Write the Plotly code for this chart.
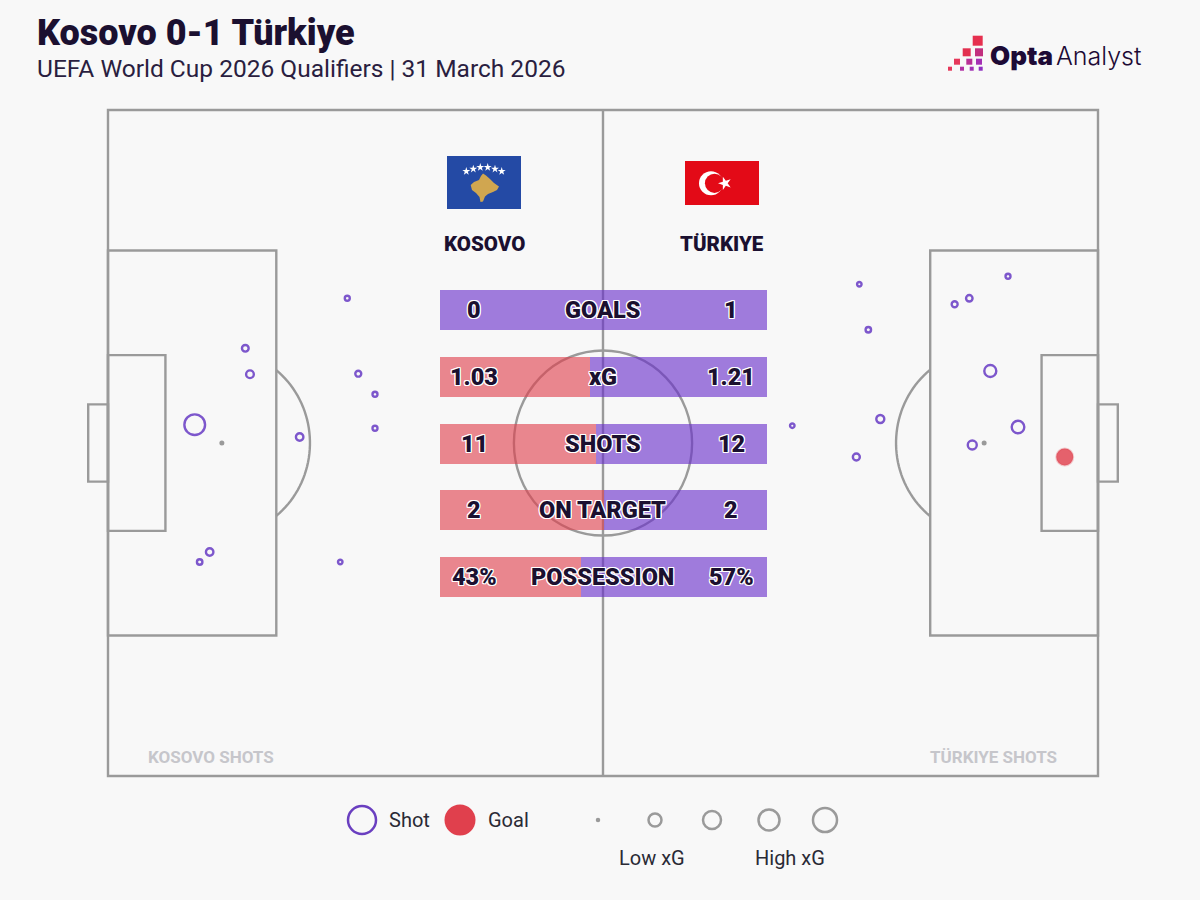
import numpy as np
import plotly.graph_objects as go

# ---------- data ----------
stat_names = ["GOALS", "xG", "SHOTS", "ON TARGET", "POSSESSION"]
kosovo_stats = [0, 1.03, 11, 2, 43]
turkiye_stats = [1, 1.21, 12, 2, 57]
kosovo_labels = ["0", "1.03", "11", "2", "43%"]
turkiye_labels = ["1", "1.21", "12", "2", "57%"]

kosovo_x = [24.17, 13.87, 14.34, 25.28, 26.97, 26.97, 8.76, 19.36, 10.27, 9.26, 23.46]
kosovo_y = [71.73, 64.22, 60.32, 60.41, 57.31, 52.21, 52.75, 50.90, 33.63, 32.13, 32.13]
kosovo_xg = [0.026, 0.047, 0.062, 0.037, 0.026, 0.026, 0.446, 0.058, 0.058, 0.031, 0.021]

turkiye_x = [75.89, 76.80, 90.91, 87.00, 85.52, 89.12, 91.92, 87.30, 78.01, 69.12, 75.59]
turkiye_y = [73.83, 67.01, 75.03, 71.73, 70.83, 60.81, 52.40, 49.70, 53.60, 52.60, 47.90]
turkiye_xg = [0.021, 0.031, 0.026, 0.044, 0.037, 0.150, 0.165, 0.084, 0.067, 0.021, 0.051]

goal_x = [96.64]
goal_y = [47.90]
goal_xg = [0.30]

key_xg = [0.176, 0.337, 0.459, 0.600]

# ---------- style ----------
BG = "#f8f8f8"
LINE = "#9a9a9a"
INK = "#1b1030"
PURPLE = "#7d57cc"
RED = "#e0404d"
BODY_FONT = "Roboto"
HEAVY_FONT = "Roboto"
LW = 2.4


def size_of(xg):
    return [31 * np.sqrt(v) for v in xg]


# figure pixel -> pitch (0-100) and paper coordinates
def pitch_x(px):
    return (px - 108) / 9.9


def pitch_y(py):
    return (776 - py) / 6.66


def pap_x(px):
    return px / 1200


def pap_y(py):
    return 1 - py / 900


fig = go.Figure()

# ---------- pitch ----------
shapes = []


def pitch_rect(x0, y0, x1, y1):
    shapes.append(dict(type="rect", xref="x", yref="y", x0=x0, y0=y0, x1=x1, y1=y1,
                       line=dict(color=LINE, width=LW), fillcolor="rgba(0,0,0,0)", layer="below"))


pitch_rect(0, 0, 100, 100)
shapes.append(dict(type="line", xref="x", yref="y", x0=50, x1=50, y0=0, y1=100,
                   line=dict(color=LINE, width=LW), layer="below"))
pitch_rect(0, 21.1, 17, 78.9)
pitch_rect(83.05, 21.1, 100, 78.9)
pitch_rect(0, 36.8, 5.8, 63.2)
pitch_rect(94.3, 36.8, 100, 63.2)
pitch_rect(-2, 44.2, 0, 55.8)
pitch_rect(100, 44.2, 102, 55.8)
shapes.append(dict(type="circle", xref="x", yref="y", x0=41, x1=59, y0=36.1, y1=63.9,
                   line=dict(color=LINE, width=LW), layer="below"))

RX, RY = 8.9, 13.9
limit = np.arccos(5.5 / RX)
theta = np.linspace(-limit, limit, 40)
for cx, sign in ((11.5, 1), (88.5, -1)):
    pts = [(cx + sign * RX * np.cos(t), 50 + RY * np.sin(t)) for t in theta]
    path = "M " + " L ".join(f"{a:.3f},{b:.3f}" for a, b in pts)
    shapes.append(dict(type="path", xref="x", yref="y", path=path,
                       line=dict(color=LINE, width=LW), layer="below"))

# ---------- flags ----------


def px_rect(x0, y0, x1, y1, color):
    shapes.append(dict(type="rect", xref="paper", yref="paper", x0=pap_x(x0), x1=pap_x(x1),
                       y0=pap_y(y0), y1=pap_y(y1), fillcolor=color, line=dict(width=0), layer="below"))


def px_circle(cx, cy, r, color):
    shapes.append(dict(type="circle", xref="paper", yref="paper", x0=pap_x(cx - r), x1=pap_x(cx + r),
                       y0=pap_y(cy + r), y1=pap_y(cy - r), fillcolor=color, line=dict(width=0), layer="below"))


px_rect(447, 156, 521, 209, "#244aa5")
map_pts = [(470.7, 185), (474, 182), (479, 180), (481, 176), (483, 173.5), (486, 175.5), (490, 179), (494, 183),
           (499, 186.5), (497, 190), (493, 192), (488, 194), (485, 196.5), (483, 201.5), (480.5, 202),
           (479.5, 197), (476, 193), (472, 190)]
shapes.append(dict(type="path", xref="paper", yref="paper",
                   path="M " + " L ".join(f"{pap_x(a):.5f},{pap_y(b):.5f}" for a, b in map_pts) + " Z",
                   fillcolor="#d0a650", line=dict(width=0), layer="below"))
px_rect(685, 161, 759, 205, "#e30a17")
px_circle(711, 183.3, 12, "#ffffff")
px_circle(714.5, 183.3, 9.6, "#e30a17")

star_px_x = [466.3, 473.3, 480.3, 487.7, 495, 501.7]
star_px_y = [171.3, 169, 167.3, 167.3, 169, 171.3]
fig.add_trace(go.Scatter(x=[pitch_x(a) for a in star_px_x], y=[pitch_y(b) for b in star_px_y],
                         mode="markers", hoverinfo="skip",
                         marker=dict(symbol="star", size=6, color="white", line=dict(width=0))))
fig.add_trace(go.Scatter(x=[pitch_x(725)], y=[pitch_y(183.3)], mode="markers", hoverinfo="skip",
                         marker=dict(symbol="star", size=10, color="white", angle=-90, line=dict(width=0))))

# ---------- logo ----------
logo_squares = [
    (977.7, 40.7, 10, "#e6304f"),
    (966.7, 52.3, 8, "#e2304f"), (979, 52.3, 8, "#c22f7e"),
    (957, 61.7, 6, "#e6385a"), (969.3, 61.7, 6, "#b82f96"), (979, 61.7, 6, "#a42fb4"),
    (950, 68.7, 4, "#e6385a"), (962, 68.7, 4, "#b02fa4"), (971.7, 68.7, 4, "#a02fb4"), (980.7, 68.7, 4, "#8f2fc0"),
]
for cx, cy, s, col in logo_squares:
    px_rect(cx - s / 2, cy - s / 2, cx + s / 2, cy + s / 2, col)

# ---------- penalty spots ----------
fig.add_trace(go.Scatter(x=[11.5, 88.5], y=[50, 50], mode="markers", hoverinfo="skip",
                         marker=dict(size=5, color=LINE, line=dict(width=0))))

# ---------- shots ----------
for xs, ys, xg in ((kosovo_x, kosovo_y, kosovo_xg), (turkiye_x, turkiye_y, turkiye_xg)):
    fig.add_trace(go.Scatter(x=xs, y=ys, mode="markers", hoverinfo="skip",
                             marker=dict(size=size_of(xg), color="rgba(0,0,0,0)", opacity=1,
                                         line=dict(color=PURPLE, width=2.4))))
fig.add_trace(go.Scatter(x=goal_x, y=goal_y, mode="markers", hoverinfo="skip",
                         marker=dict(size=size_of(goal_xg), color="rgba(224,64,77,0.82)", opacity=1,
                                     line=dict(color="rgba(224,64,77,0.25)", width=2))))

# ---------- legend marks ----------
fig.add_trace(go.Scatter(x=[pitch_x(362)], y=[pitch_y(820)], mode="markers", hoverinfo="skip",
                         marker=dict(size=28, color="rgba(0,0,0,0)", opacity=1,
                                     line=dict(color="#6a3fc0", width=2.5))))
fig.add_trace(go.Scatter(x=[pitch_x(460)], y=[pitch_y(820)], mode="markers", hoverinfo="skip",
                         marker=dict(size=31, color=RED, opacity=1, line=dict(width=0))))
fig.add_trace(go.Scatter(x=[pitch_x(598)], y=[pitch_y(820)], mode="markers", hoverinfo="skip",
                         marker=dict(size=4.5, color=LINE, line=dict(width=0))))
fig.add_trace(go.Scatter(x=[pitch_x(a) for a in (655, 712, 769, 825)], y=[pitch_y(820)] * 4,
                         mode="markers", hoverinfo="skip",
                         marker=dict(size=size_of(key_xg), color="rgba(0,0,0,0)", opacity=1,
                                     line=dict(color=LINE, width=2.5))))

# ---------- stat bars ----------
fig.add_trace(go.Bar(y=stat_names, x=kosovo_stats, orientation="h", xaxis="x2", yaxis="y2",
                     marker=dict(color="rgba(224,64,77,0.62)", line=dict(width=0)), hoverinfo="skip"))
fig.add_trace(go.Bar(y=stat_names, x=turkiye_stats, orientation="h", xaxis="x2", yaxis="y2",
                     marker=dict(color="rgba(105,47,203,0.62)", line=dict(width=0)), hoverinfo="skip"))

# ---------- text ----------
outline = ",".join(f"{a}px {b}px 0 #fff" for a, b in
                   ((1, 0), (-1, 0), (0, 1), (0, -1), (1, 1), (-1, -1), (1, -1), (-1, 1)))
annotations = []


def text(px, py, s, size, color=INK, family=BODY_FONT, weight=400, anchor="center", shadow=None):
    font = dict(size=size, color=color, family=family, weight=weight)
    if shadow:
        font["shadow"] = shadow
    annotations.append(dict(xref="paper", yref="paper", x=pap_x(px), y=pap_y(py), text=s, showarrow=False,
                            xanchor=anchor, yanchor="middle", font=font))


text(35, 33, "Kosovo 0-1 Türkiye", 36, weight=900, family=HEAVY_FONT, anchor="left")
text(35, 68, "UEFA World Cup 2026 Qualifiers | 31 March 2026", 24.5, color="#2a1e40", anchor="left")
text(988, 56, "Opta", 26, color="#1d0a35", weight=900, family="Inter", anchor="left")
text(1054, 56, "Analyst", 25, color="#1d0a35", weight=300, family="Inter", anchor="left")
text(484, 244, "KOSOVO", 20.5, weight=900, family=HEAVY_FONT)
text(722, 244, "TÜRKIYE", 20.5, weight=900, family=HEAVY_FONT)
text(211, 757, "KOSOVO SHOTS", 17, color="#c6c6cb", weight=700, family=HEAVY_FONT)
text(993, 757, "TÜRKIYE SHOTS", 17, color="#c6c6cb", weight=700, family=HEAVY_FONT)
text(387, 820, "Shot", 20, color="#2a2a35", anchor="left")
text(486, 820, "Goal", 20, color="#2a2a35", anchor="left")
text(652, 858, "Low xG", 20, color="#2a2a35")
text(790, 858, "High xG", 20, color="#2a2a35")

for i, name in enumerate(stat_names):
    py = 310 + i * 66.8
    text(474, py, kosovo_labels[i], 23.5, weight=900, family=HEAVY_FONT, shadow=outline)
    text(603, py, name, 23.5, weight=900, family=HEAVY_FONT, shadow=outline)
    text(731, py, turkiye_labels[i], 23.5, weight=900, family=HEAVY_FONT, shadow=outline)

# ---------- layout ----------
hidden = dict(visible=False, showgrid=False, zeroline=False, fixedrange=True)
fig.update_layout(
    width=1200, height=900, autosize=False,
    margin=dict(l=0, r=0, t=0, b=0),
    paper_bgcolor=BG, plot_bgcolor="rgba(0,0,0,0)",
    showlegend=False,
    barmode="stack", barnorm="fraction", bargap=0.4,
    xaxis=dict(range=[pitch_x(0), pitch_x(1200)], domain=[0, 1], **hidden),
    yaxis=dict(range=[pitch_y(900), pitch_y(0)], domain=[0, 1], **hidden),
    xaxis2=dict(range=[0, 1], domain=[pap_x(440), pap_x(767)], anchor="y2", **hidden),
    yaxis2=dict(range=[4.5, -0.5], domain=[pap_y(610.6), pap_y(276.6)], anchor="x2", type="category",
                categoryorder="array", categoryarray=stat_names, **hidden),
    shapes=shapes,
    annotations=annotations,
)

fig.write_html("out.html", config={"displayModeBar": False},
               post_script="document.body.style.margin='0';document.body.style.overflow='hidden';")
